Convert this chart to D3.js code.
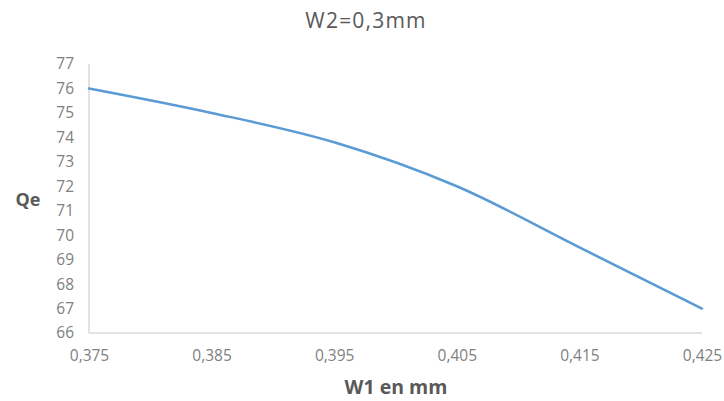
<!DOCTYPE html>
<html><head><meta charset="utf-8">
<script src="https://cdn.jsdelivr.net/npm/d3@7"></script>
<style>body{margin:0;background:#fff}svg{display:block}</style>
</head><body><svg id="c" width="724" height="401"></svg>
<script>
const xValues = [0.375, 0.385, 0.395, 0.405, 0.415, 0.425];
const qeValues = [76, 75, 73.8, 72, 69.5, 67];
const xTicks = [0.375, 0.385, 0.395, 0.405, 0.415, 0.425];
const yTicks = [66, 67, 68, 69, 70, 71, 72, 73, 74, 75, 76, 77];
const title = "W2=0,3mm", xTitle = "W1 en mm", yTitle = "Qe";

const svg = d3.select("#c");
const font = "'Open Sans', sans-serif";
const x = d3.scaleLinear().domain([0.375, 0.425]).range([89, 702]);
const y = d3.scaleLinear().domain([66, 77]).range([333, 64]);
const fmt = d => d3.format(".3f")(d).replace(".", ",");

svg.append("text").attr("x", 366).attr("y", 28).attr("text-anchor", "middle")
  .attr("font-family", font).attr("font-size", 21).attr("letter-spacing", 1.2).attr("fill", "#595959").text(title);

// axis lines
svg.append("line").attr("x1", x(0.375)).attr("x2", x(0.375)).attr("y1", y(77)).attr("y2", y(66))
  .attr("stroke", "#d9d9d9").attr("stroke-width", 1.5);
svg.append("line").attr("x1", x(0.375)).attr("x2", x(0.425)).attr("y1", y(66)).attr("y2", y(66))
  .attr("stroke", "#d9d9d9").attr("stroke-width", 1.5);

const yAx = svg.append("g").attr("transform", `translate(${x(0.375)},0)`)
  .call(d3.axisLeft(y).tickValues(yTicks).tickSize(0).tickPadding(15));
yAx.select(".domain").remove();
yAx.selectAll("text").attr("font-family", font).attr("font-size", 15.5).attr("fill", "#7f7f7f");

const xAx = svg.append("g").attr("transform", `translate(0,${y(66)})`)
  .call(d3.axisBottom(x).tickValues(xTicks).tickFormat(fmt).tickSize(0).tickPadding(17));
xAx.select(".domain").remove();
xAx.selectAll("text").attr("font-family", font).attr("font-size", 15.5).attr("fill", "#7f7f7f");

svg.append("text").attr("x", 396).attr("y", 394).attr("text-anchor", "middle")
  .attr("font-family", font).attr("font-weight", "bold").attr("font-size", 19.5).attr("fill", "#595959").text(xTitle);
svg.append("text").attr("x", 28).attr("y", 206).attr("text-anchor", "middle")
  .attr("font-family", font).attr("font-weight", "bold").attr("font-size", 18).attr("fill", "#595959").text(yTitle);

const line = d3.line().x(d => x(d[0])).y(d => y(d[1])).curve(d3.curveCatmullRom.alpha(0.5));
svg.append("path").datum(xValues.map((v, i) => [v, qeValues[i]]))
  .attr("d", line).attr("fill", "none").attr("stroke", "#5b9bd5").attr("stroke-width", 2.5).attr("stroke-linecap", "round");
</script></body></html>
